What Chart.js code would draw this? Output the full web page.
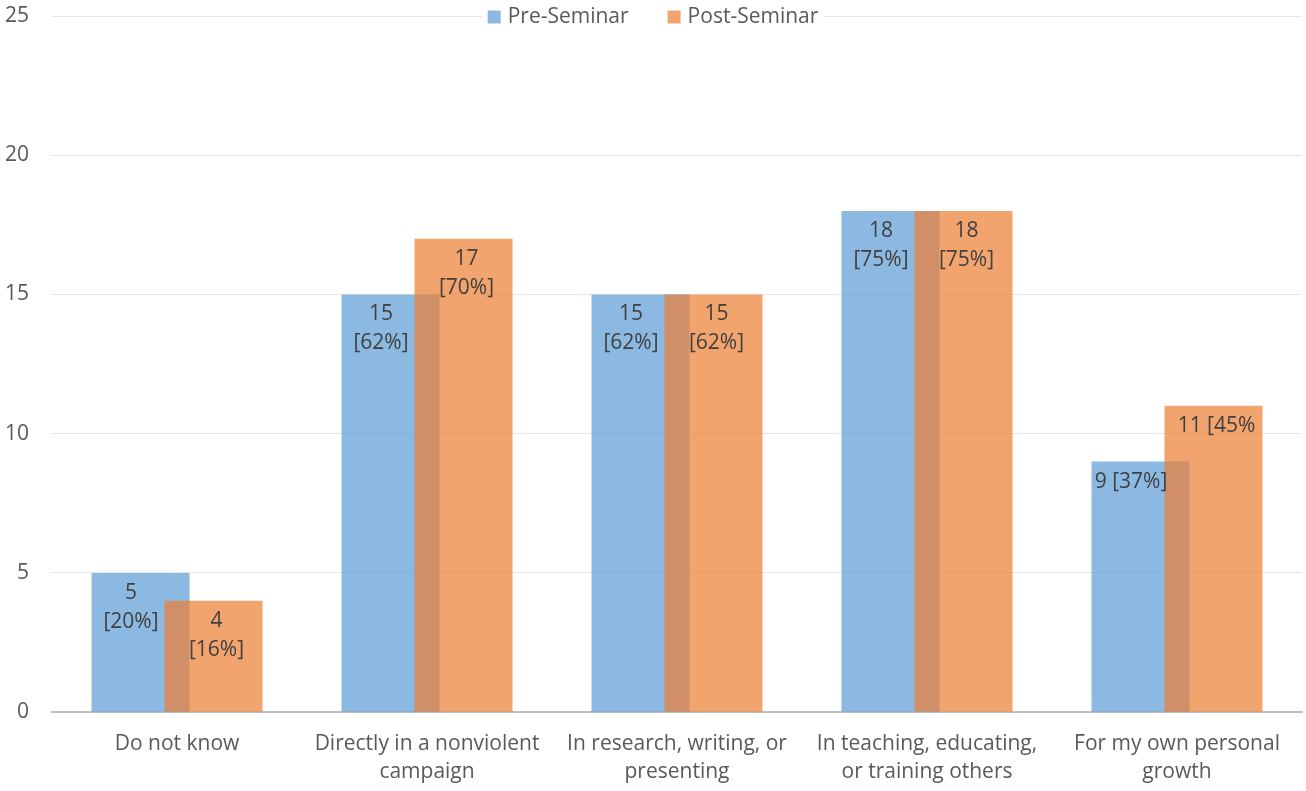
<!DOCTYPE html>
<html>
<head>
<meta charset="utf-8">
<script src="https://cdn.jsdelivr.net/npm/chart.js@4.4.1/dist/chart.umd.min.js"></script>
<style>
  html, body { margin: 0; padding: 0; background: #fff; }
  #wrap { width: 1306px; height: 791px; position: relative; }
</style>
</head>
<body>
<div id="wrap"><canvas id="chart"></canvas></div>
<script>
// chart values
const categories = [
    ['Do not know'],
    ['Directly in a nonviolent', 'campaign'],
    ['In research, writing, or', 'presenting'],
    ['In teaching, educating,', 'or training others'],
    ['For my own personal', 'growth']
];
const seriesNames = ['Pre-Seminar', 'Post-Seminar'];
const preValues = [5, 15, 15, 18, 9];
const postValues = [4, 17, 15, 18, 11];
const preLabels = [['5', '[20%]'], ['15', '[62%]'], ['15', '[62%]'], ['18', '[75%]'], ['9 [37%]']];
const postLabels = [['4', '[16%]'], ['17', '[70%]'], ['15', '[62%]'], ['18', '[75%]'], ['11 [45%']];
const yTicks = [0, 5, 10, 15, 20, 25];

const FONT = "'Open Sans', sans-serif";
const blue = 'rgba(91,155,213,0.7)';
const orange = 'rgba(237,125,49,0.7)';

Chart.defaults.font.family = FONT;
Chart.defaults.font.size = 21;
Chart.defaults.color = '#595959';

// draw the first dataset underneath the second so the overlap looks like Excel
const drawOrder = {
    id: 'drawOrder',
    beforeDatasetsDraw(chart) {
        chart.getDatasetMeta(0).controller.draw();
    },
    beforeDatasetDraw(chart, args) {
        if (args.index === 0) return false;
    }
};

// value labels: pre labels sit in the visible (non-overlapped) part of the blue bar
const barLabels = {
    id: 'barLabels',
    afterDatasetsDraw(chart) {
        const ctx = chart.ctx;
        const preBars = chart.getDatasetMeta(0).data;
        const postBars = chart.getDatasetMeta(1).data;
        ctx.save();
        ctx.font = '21px ' + FONT;
        ctx.fillStyle = '#404040';
        ctx.textAlign = 'center';
        ctx.textBaseline = 'middle';
        preBars.forEach((bar, i) => {
            const post = postBars[i];
            const cx = (bar.x - bar.width / 2 + post.x - post.width / 2) / 2 + 3;
            preLabels[i].forEach((line, li) => ctx.fillText(line, cx, bar.y + 20 + li * 29));
        });
        postBars.forEach((bar, i) => {
            postLabels[i].forEach((line, li) => ctx.fillText(line, bar.x + 3, bar.y + 20 + li * 29));
        });
        ctx.restore();
    }
};

const topLegend = {
    id: 'topLegend',
    afterDraw(chart) {
        const ctx = chart.ctx;
        const box = 13, gapText = 7, gapItem = 39;
        ctx.save();
        ctx.font = '21px ' + FONT;
        const widths = seriesNames.map(n => ctx.measureText(n).width);
        const total = widths.reduce((a, w) => a + box + gapText + w, 0) + gapItem * (seriesNames.length - 1);
        let x = chart.width / 2 - total / 2;
        const y = chart.chartArea.top + 1;
        ctx.fillStyle = '#fff';
        ctx.fillRect(x - 5, y - 12, total + 10, 24);
        ctx.textBaseline = 'middle';
        ctx.textAlign = 'left';
        seriesNames.forEach((n, i) => {
            ctx.fillStyle = chart.data.datasets[i].backgroundColor;
            ctx.fillRect(x, y - box / 2, box, box);
            x += box + gapText;
            ctx.fillStyle = '#595959';
            ctx.fillText(n, x, y);
            x += widths[i] + gapItem;
        });
        ctx.restore();
    }
};

new Chart(document.getElementById('chart'), {
    type: 'bar',
    data: {
        labels: categories,
        datasets: [
            { label: seriesNames[0], data: preValues, backgroundColor: blue },
            { label: seriesNames[1], data: postValues, backgroundColor: orange }
        ]
    },
    options: {
        responsive: true,
        maintainAspectRatio: false,
        animation: false,
        categoryPercentage: 0.584,
        barPercentage: 1.343,
        layout: { padding: { left: 5, right: 4, top: 16, bottom: -5 } },
        plugins: {
            legend: { display: false },
            tooltip: { enabled: false }
        },
        scales: {
            x: {
                grid: { display: false },
                border: { display: true, color: '#BFBFBF', width: 2 },
                ticks: { padding: 10, color: '#595959', maxRotation: 0, font: { size: 21, lineHeight: 1.33 } }
            },
            y: {
                min: yTicks[0],
                max: yTicks[yTicks.length - 1],
                afterBuildTicks(scale) { scale.ticks = yTicks.map(v => ({ value: v })); },
                border: { display: false },
                grid: {
                    drawTicks: true,
                    tickLength: 23,
                    tickColor: 'rgba(0,0,0,0)',
                    color: c => (c.tick && c.tick.value === 0 ? 'rgba(0,0,0,0)' : '#E6E6E6')
                },
                ticks: { padding: 0, color: '#595959' }
            }
        }
    },
    plugins: [drawOrder, barLabels, topLegend]
});
</script>
</body>
</html>
